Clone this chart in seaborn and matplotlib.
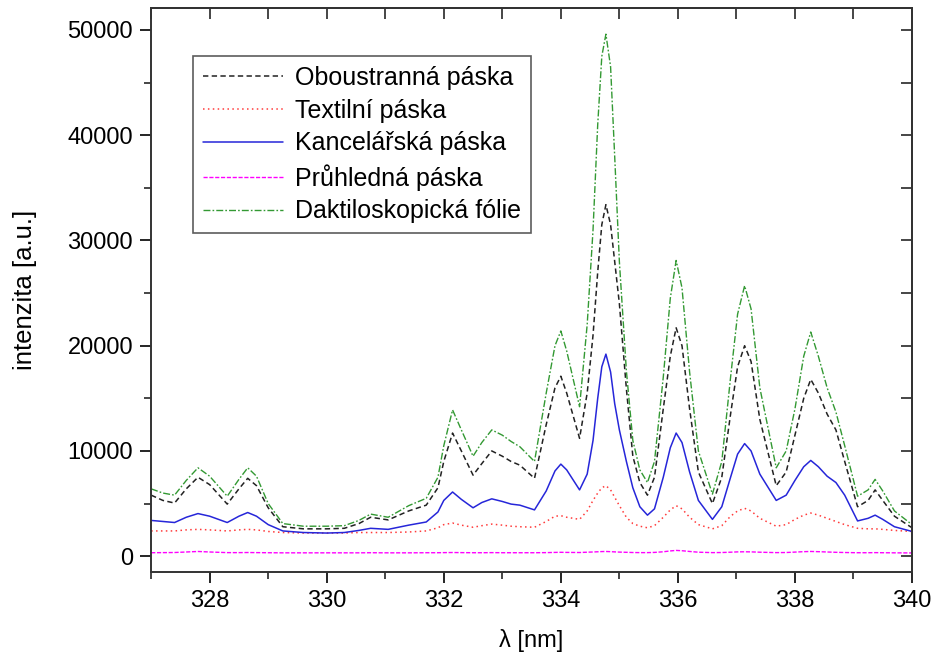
import matplotlib
matplotlib.use("Agg")
import matplotlib.pyplot as plt
import seaborn as sns
import pandas as pd
from matplotlib.ticker import MultipleLocator

wavelength = [327.0, 327.2, 327.4, 327.6, 327.8, 328.0, 328.3, 328.5, 328.65, 328.8,
              329.0, 329.25, 329.6, 330.0, 330.3, 330.55, 330.75, 331.05, 331.4, 331.7,
              331.9, 332.0, 332.15, 332.3, 332.5, 332.65, 332.82, 333.0, 333.15, 333.3,
              333.55, 333.75, 333.9, 334.0, 334.1, 334.32, 334.45, 334.55, 334.63, 334.7,
              334.77, 334.85, 334.92, 335.0, 335.12, 335.23, 335.35, 335.48, 335.6, 335.75,
              335.87, 335.97, 336.07, 336.2, 336.35, 336.59, 336.75, 336.9, 337.02, 337.14,
              337.25, 337.4, 337.68, 337.85, 338.0, 338.15, 338.27, 338.4, 338.55, 338.7,
              338.85, 339.07, 339.25, 339.37, 339.5, 339.7, 340.0]

oboustranna = [5800, 5300, 5050, 6400, 7500, 6800, 4950, 6400, 7400, 6700,
               4600, 2800, 2600, 2600, 2650, 3100, 3700, 3450, 4300, 4850,
               6500, 9000, 11700, 10000, 7700, 8800, 10000, 9500, 9000, 8650,
               7400, 12500, 16000, 17100, 15500, 11200, 15500, 21000, 27000, 31500,
               33400, 31500, 28000, 24000, 15900, 9500, 7000, 5800, 7500, 14000,
               19000, 21700, 20000, 14000, 8000, 5000, 7500, 13500, 18000, 20000,
               18500, 13000, 6700, 8000, 11500, 15000, 16800, 15500, 13500, 12000,
               9000, 4700, 5300, 6300, 5300, 3800, 2700]

textilni = [2400, 2400, 2400, 2500, 2550, 2500, 2400, 2500, 2550, 2500,
            2350, 2250, 2200, 2200, 2200, 2250, 2250, 2250, 2300, 2400,
            2700, 3000, 3150, 2950, 2750, 2900, 3050, 2950, 2850, 2800,
            2750, 3300, 3800, 3850, 3700, 3500, 4300, 5300, 6000, 6500,
            6700, 6300, 5600, 4800, 3700, 3100, 2850, 2700, 2900, 3700,
            4400, 4800, 4500, 3700, 3000, 2600, 2900, 3800, 4300, 4550,
            4300, 3600, 2850, 3000, 3500, 3900, 4100, 3900, 3600, 3300,
            3000, 2650, 2600, 2600, 2550, 2450, 2350]

kancelarska = [3400, 3300, 3200, 3700, 4050, 3800, 3200, 3800, 4150, 3800,
               3000, 2400, 2250, 2200, 2250, 2450, 2650, 2550, 2950, 3250,
               4200, 5300, 6100, 5400, 4600, 5100, 5450, 5200, 4950, 4850,
               4400, 6200, 8100, 8750, 8200, 6300, 7800, 11000, 15000, 18000,
               19200, 17500, 14500, 12000, 9000, 6500, 4700, 3900, 4500, 7500,
               10300, 11700, 10800, 8000, 5300, 3500, 4700, 7500, 9700, 10700,
               10000, 7800, 5300, 5800, 7200, 8500, 9100, 8500, 7600, 7000,
               5800, 3350, 3600, 3900, 3500, 2800, 2350]

pruhledna = [330, 340, 350, 400, 450, 400, 340, 340, 350, 340,
             330, 320, 320, 320, 320, 320, 330, 320, 320, 330,
             330, 340, 350, 340, 330, 330, 340, 330, 330, 330,
             330, 340, 360, 370, 360, 350, 380, 400, 420, 440,
             450, 430, 410, 390, 370, 350, 340, 340, 360, 420,
             500, 550, 520, 450, 380, 340, 350, 380, 410, 420,
             410, 380, 340, 350, 390, 430, 450, 430, 400, 370,
             350, 330, 330, 340, 330, 320, 310]

daktiloskopicka = [6400, 6000, 5800, 7200, 8400, 7600, 5700, 7300, 8400, 7600,
                   5000, 3100, 2850, 2850, 2900, 3400, 4000, 3700, 4800, 5500,
                   7500, 10500, 13900, 12000, 9500, 10800, 12000, 11500, 10900, 10400,
                   9000, 15500, 20000, 21400, 19500, 14200, 22000, 31000, 41000, 47500,
                   49600, 46500, 38000, 28000, 17600, 11000, 8200, 7000, 9000, 17000,
                   24500, 28100, 25500, 17500, 10000, 5900, 9000, 17000, 23000, 25700,
                   23500, 16000, 8400, 10000, 14000, 19000, 21300, 19000, 16000, 13700,
                   10500, 5700, 6300, 7300, 6200, 4300, 3000]

series_names = ["Oboustranná páska", "Textilní páska", "Kancelářská páska",
                "Průhledná páska", "Daktiloskopická fólie"]
series_values = [oboustranna, textilni, kancelarska, pruhledna, daktiloskopicka]
colors = ["#222222", "#ff3b3b", "#2626d9", "#ff00ff", "#339933"]
dashes = [(3.5, 2.2), (1.0, 2.2), None, (3.0, 1.2), (5.0, 1.5, 1.2, 1.5)]
widths = [1.1, 1.1, 1.1, 1.0, 1.0]

x_ticks = [328, 330, 332, 334, 336, 338, 340]
y_ticks = [0, 10000, 20000, 30000, 40000, 50000]

sns.set_theme(style="white")
plt.rcParams["font.family"] = ["Liberation Sans", "DejaVu Sans"]
plt.rcParams["text.color"] = "black"
plt.rcParams["axes.labelcolor"] = "black"

fig = plt.figure(figsize=(9.33, 6.54), dpi=100)
ax = fig.add_axes([0.162, 0.1254, 0.8155, 0.8626])

for name, vals, col, dsh, lw in zip(series_names, series_values, colors, dashes, widths):
    df = pd.DataFrame({"x": wavelength, "y": vals})
    sns.lineplot(data=df, x="x", y="y", color=col, lw=lw, label=name, ax=ax)
    ln = ax.lines[-1]
    if dsh is not None:
        ln.set_dashes(dsh)

ax.set_xlim(327, 340)
ax.set_ylim(-1500, 52100)
ax.set_xticks(x_ticks)
ax.set_yticks(y_ticks)
ax.xaxis.set_minor_locator(MultipleLocator(1))
ax.yaxis.set_minor_locator(MultipleLocator(5000))
ax.tick_params(axis="both", which="major", direction="out", length=8, width=1.2,
               labelsize=17, colors="black", pad=5)
ax.tick_params(axis="both", which="minor", direction="out", length=5, width=1.2)
ax.tick_params(bottom=True, left=True, which="both")
for sp in ax.spines.values():
    sp.set_color("#333333")
    sp.set_linewidth(1.4)

top = ax.secondary_xaxis("top")
top.set_xticks(list(range(327, 341)))
top.tick_params(direction="in", length=8, width=1.2, labeltop=False)
right = ax.secondary_yaxis("right")
right.set_yticks(list(range(0, 52001, 5000)))
right.tick_params(direction="in", length=8, width=1.2, labelright=False)

ax.set_xlabel("λ [nm]", fontsize=17, labelpad=12)
ax.set_ylabel("intenzita [a.u.]", fontsize=18.5, labelpad=22)

leg = ax.legend(loc="upper left", bbox_to_anchor=(0.055, 0.915), fontsize=18,
                frameon=True, fancybox=False, handlelength=3.2, handletextpad=0.5,
                labelspacing=0.35, borderpad=0.4, borderaxespad=0)
leg.get_frame().set_edgecolor("#333333")
leg.get_frame().set_linewidth(1.2)
for t in leg.get_texts():
    t.set_color("black")

fig.savefig("out.png", dpi=100)
